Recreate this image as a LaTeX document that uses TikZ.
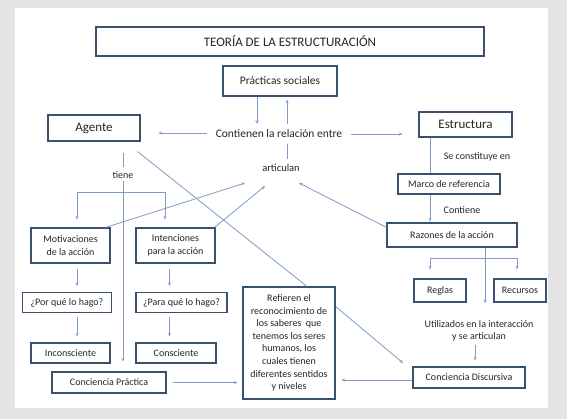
\documentclass[tikz,border=0pt]{standalone}
\usepackage{fontspec}
\setmainfont{Carlito}
\usetikzlibrary{arrows.meta}
\definecolor{bord}{HTML}{3B4F6E}
\definecolor{conn}{HTML}{7F9BC6}
\definecolor{txt}{HTML}{262626}
\definecolor{bg}{HTML}{E4E4E4}
\begin{document}
\begin{tikzpicture}[x=1pt,y=-1pt,
  box/.style={draw=bord, line width=1.1pt, fill=white, inner sep=0pt, text=txt, font=\fontsize{10}{12.6}\selectfont, align=center},
  lbl/.style={text=txt, font=\fontsize{10}{12}\selectfont, inner sep=0pt, align=center},
  arr/.style={draw=conn, line width=0.8pt, -{Stealth[length=3.5pt,width=3pt]}},
  ln/.style={draw=conn, line width=0.8pt},
  big/.style={font=\fontsize{13}{15}\selectfont},
  mid/.style={font=\fontsize{11.5}{14}\selectfont}]
\useasboundingbox (0,0) rectangle (567,419);
\fill[bg] (0,0) rectangle (567,419);
\fill[white] (15,8) rectangle (548,408);

% nodes
\node[box, big, minimum width=388pt, minimum height=29pt] (title) at (290,41.5) {TEORÍA DE LA ESTRUCTURACIÓN};
\node[box, mid, minimum width=114pt, minimum height=30pt] (prac) at (280,81) {Prácticas sociales};
\node[box, big, minimum width=92pt, minimum height=26pt] (agente) at (94,128) {Agente};
\node[box, big, minimum width=93pt, minimum height=25pt] (estr) at (465.5,124.5) {Estructura};
\node[lbl, mid, inner xsep=9pt, inner ysep=6pt] (cont) at (279,134) {Contienen la relación entre};
\node[lbl, font=\fontsize{10.5}{12}\selectfont] (artic) at (281,168) {articulan};
\node[lbl] (tiene) at (123,175) {tiene};
\node[box, minimum width=79pt, minimum height=35pt] (motiv) at (70.5,245.5) {Motivaciones\\de la acción};
\node[box, minimum width=79pt, minimum height=35pt] (inten) at (175.5,245.5) {Intenciones\\para la acción};
\node[box, minimum width=89pt, minimum height=20pt] (porq) at (67,302.5) {¿Por qué lo hago?};
\node[box, minimum width=91pt, minimum height=20pt] (paraq) at (181.5,302.5) {¿Para qué lo hago?};
\node[box, minimum width=79pt, minimum height=20pt] (incon) at (70.5,353) {Inconsciente};
\node[box, minimum width=80pt, minimum height=20pt] (consc) at (176,353) {Consciente};
\node[box, minimum width=114pt, minimum height=21pt] (cprac) at (109,382.5) {Conciencia Práctica};
\node[box, minimum width=92pt, minimum height=112pt] (refie) at (289,343) {Refieren el\\reconocimiento de\\los saberes \ que\\tenemos los seres\\humanos, los\\cuales tienen\\diferentes sentidos\\y niveles};
\node[lbl] (secons) at (477,157) {Se constituye en};
\node[box, minimum width=102pt, minimum height=20pt] (marco) at (449,184) {Marco de referencia};
\node[lbl] (contiene) at (462,210) {Contiene};
\node[box, minimum width=130pt, minimum height=24pt] (razon) at (452,235) {Razones de la acción};
\node[box, minimum width=52pt, minimum height=23pt] (reglas) at (440,290.5) {Reglas};
\node[box, minimum width=52pt, minimum height=23pt] (recur) at (520,290.5) {Recursos};
\node[lbl] (util) at (479,331) {Utilizados en la interacción\\y se articulan};
\node[box, minimum width=112pt, minimum height=21pt] (cdisc) at (469,377.5) {Conciencia Discursiva};

% coordinates
\coordinate (a1) at (245,183);
\coordinate (a2) at (265,186);
\coordinate (a3) at (299,183);
\coordinate (jl) at (77,192);
\coordinate (jr) at (165,192);
\coordinate (kl) at (430,258);
\coordinate (kr) at (517,258);
\coordinate (ku) at (485,303);
\coordinate (d1) at (403,363);

% top connectors
\draw[arr] ([xshift=-23pt]prac.south) -- ([xshift=-23pt]prac.south |- cont.north);
\draw[arr, shorten >=3pt] ([xshift=7pt]prac.south |- cont.north) -- ([xshift=7pt]prac.south);
\draw[ln, shorten <=5pt] ([xshift=6pt]artic.north) -- ([xshift=6pt]artic.north |- cont.south);
\draw[arr, shorten >=18pt] ([yshift=1pt]cont.west) -- ([yshift=1pt]cont.west -| agente.east);
\draw[arr, shorten >=16pt] (cont.east) -- (cont.east -| estr.west);

% agente side
\draw[ln, shorten <=11pt, shorten >=4pt] ([xshift=29pt]agente.south) -- ([xshift=29pt]agente.south |- tiene.north);
\draw[arr, shorten <=2pt, shorten >=10pt] ([xshift=14pt]cprac.north |- tiene.south) -- ([xshift=14pt]cprac.north);
\draw[ln] (jl) -- (jr);
\draw[arr, shorten >=8pt] (jl) -- (jl |- motiv.north);
\draw[arr, shorten >=8pt] (jr) -- (jr |- inten.north);
\draw[arr, shorten <=5pt, shorten >=6pt] (jl |- motiv.south) -- (jl |- porq.north);
\draw[arr, shorten <=4pt, shorten >=6pt] (jl |- porq.south) -- (jl |- incon.north);
\draw[arr, shorten <=5pt, shorten >=6pt] ([xshift=-6pt]inten.south) -- ([xshift=-6pt]inten.south |- paraq.north);
\draw[arr, shorten <=4pt, shorten >=6pt] ([xshift=-12pt]paraq.south) -- ([xshift=-12pt]paraq.south |- consc.north);

% diagonals
\draw[arr] ([xshift=-5pt]motiv.north east) -- (a1);
\draw[arr] ([xshift=-1pt]inten.north east) -- (a2);
\draw[arr] ([yshift=-5pt]razon.north west) -- (a3);
\draw[ln] ([xshift=-3pt,yshift=-10pt]agente.south east) -- ([xshift=18pt]refie.north);
\draw[arr] ([yshift=-20pt]refie.north east) -- (d1);

% bottom
\draw[arr, shorten <=6pt, shorten >=5pt] (cprac.east) -- (cprac.east -| refie.west);
\draw[arr, shorten >=6pt] ([yshift=-2.5pt]cdisc.west) -- ([yshift=-2.5pt]cdisc.west -| refie.east);

% estructura side
\draw[ln] ([xshift=-35.5pt]estr.south) -- ([xshift=-35.5pt]estr.south |- marco.north);
\draw[arr, shorten >=1pt] ([xshift=-22pt]razon.north |- marco.south) -- ([xshift=-22pt]razon.north);
\draw[arr] ([xshift=33pt]razon.south) -- (ku);
\draw[ln] (kl) -- (kr);
\draw[arr, shorten >=9pt] (kl) -- (kl |- reglas.north);
\draw[arr, shorten >=9pt] (kr) -- (kr |- recur.north);
\draw[arr, shorten <=4pt, shorten >=6pt] ([xshift=6pt]cdisc.north |- util.south) -- ([xshift=6pt]cdisc.north);
\end{tikzpicture}
\end{document}
